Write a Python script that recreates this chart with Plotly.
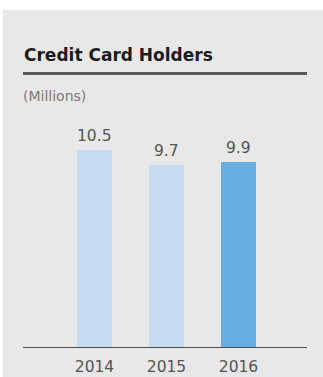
import plotly.graph_objects as go

# Credit card holders by year, in millions
years = ["2014", "2015", "2016"]
holders = [10.5, 9.7, 9.9]
bar_colors = ["#c6daf1", "#c6daf1", "#67afe1"]

W, H = 323, 377
TEXT_FONT = "DejaVu Sans"

# pixel layout helpers (paper coordinates measured from top-left)
def px_x(p):
    return p / W

def px_y(p):
    return 1 - p / H

x_pos = list(range(len(years)))
spacing = 72.0
first_center = 94.5
x_left_px, x_right_px = 23, 307
x_range = [(x_left_px - first_center) / spacing, (x_right_px - first_center) / spacing]

base_px, top_px = 347, 110
px_per_unit = 18.72
y_max = (base_px - top_px) / px_per_unit

fig = go.Figure()
fig.add_trace(go.Bar(
    x=x_pos,
    y=holders,
    width=35 / spacing,
    marker=dict(color=bar_colors, line=dict(width=0)),
    hoverinfo="skip",
))

annotations = [
    dict(text="<b>Credit Card Holders</b>", x=px_x(22), y=px_y(55),
         xref="paper", yref="paper", xanchor="left", yanchor="middle",
         showarrow=False, font=dict(family=TEXT_FONT, size=17, color="#1c1c1c")),
    dict(text="(Millions)", x=px_x(21), y=px_y(96),
         xref="paper", yref="paper", xanchor="left", yanchor="middle",
         showarrow=False, font=dict(family=TEXT_FONT, size=14, color="#7a7a7a")),
]
for xp, v in zip(x_pos, holders):
    annotations.append(dict(
        text=f"{v:.1f}", x=xp, y=v, xref="x", yref="y",
        xanchor="center", yanchor="bottom", yshift=3, showarrow=False,
        font=dict(family=TEXT_FONT, size=15.5, color="#555555"),
    ))

shapes = [
    # panel background
    dict(type="rect", xref="paper", yref="paper", x0=px_x(3), x1=1,
         y0=0, y1=px_y(10), fillcolor="#e8e8e8", line=dict(width=0), layer="below"),
    # heading rule
    dict(type="line", xref="paper", yref="paper", x0=px_x(23), x1=px_x(307),
         y0=px_y(73.5), y1=px_y(73.5), line=dict(color="#5a5a5a", width=3)),
]

fig.update_layout(
    width=W, height=H,
    margin=dict(l=0, r=0, t=0, b=0),
    paper_bgcolor="white",
    plot_bgcolor="rgba(0,0,0,0)",
    showlegend=False,
    bargap=0,
    annotations=annotations,
    shapes=shapes,
    xaxis=dict(
        domain=[px_x(x_left_px), px_x(x_right_px)],
        range=x_range,
        tickmode="array", tickvals=x_pos, ticktext=years,
        showgrid=False, zeroline=False,
        showline=True, linecolor="#4d4d4d", linewidth=1.3,
        ticks="", ticklabelstandoff=5,
        tickfont=dict(family=TEXT_FONT, size=15.5, color="#555555"),
        fixedrange=True,
    ),
    yaxis=dict(
        domain=[px_y(base_px), px_y(top_px)],
        range=[0, y_max],
        visible=False, showgrid=False, zeroline=False,
        fixedrange=True,
    ),
)

fig.write_html("out.html", config={"displayModeBar": False})
